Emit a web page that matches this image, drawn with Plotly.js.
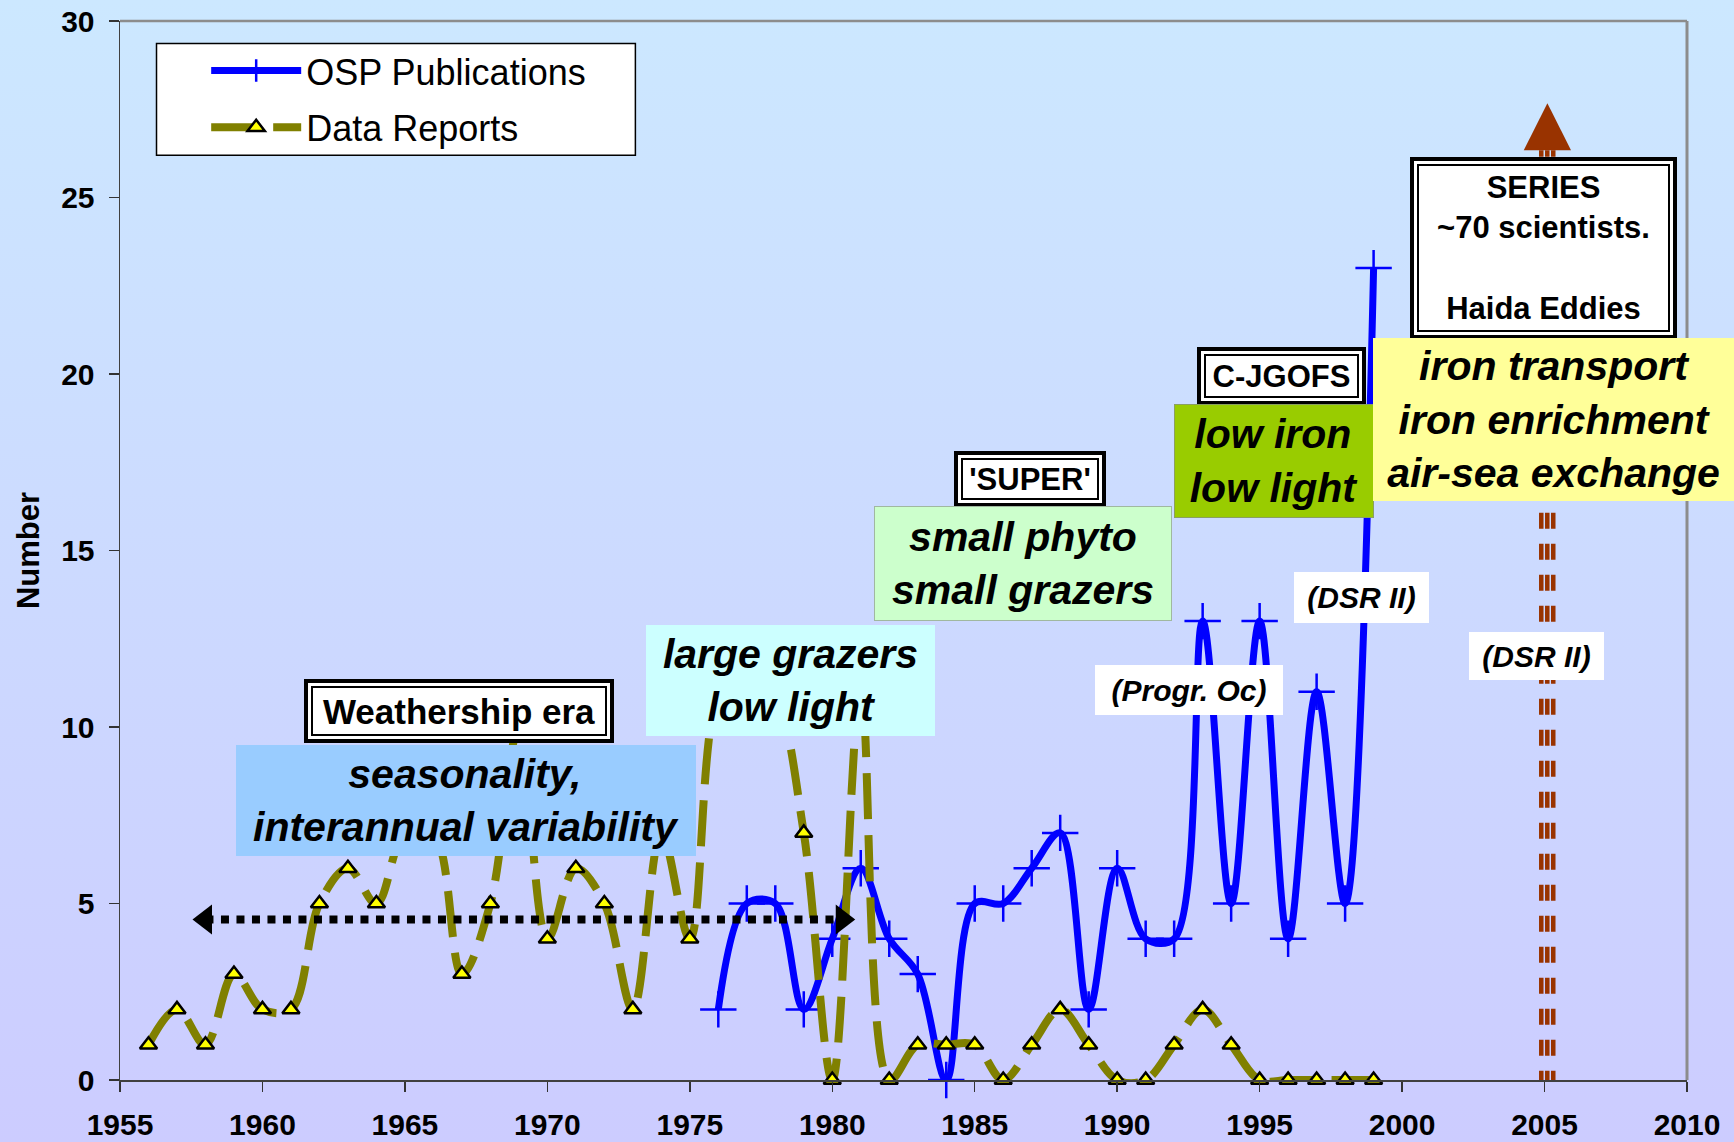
<!DOCTYPE html>
<html>
<head>
<meta charset="utf-8">
<script src="https://cdn.plot.ly/plotly-3.0.1.min.js"></script>
<style>
html,body{margin:0;padding:0;}
#chart{width:1734px;height:1142px;background:linear-gradient(to bottom,#CCE8FF 0%,#CCCCFF 100%);}
</style>
</head>
<body>
<div id="chart"></div>
<script>
// ---- data ----
const ospYears = [1976,1977,1978,1979,1980,1981,1982,1983,1984,1985,1986,1987,1988,1989,1990,1991,1992,1993,1994,1995,1996,1997,1998,1999];
const ospValues = [2,5,5,2,4,6,4,3,0,5,5,6,7,2,6,4,4,13,5,13,4,11,5,23];

const reportYears = [1956,1957,1958,1959,1960,1961,1962,1963,1964,1965,1966,1967,1968,1969,1970,1971,1972,1973,1974,1975,1976,1977,1978,1979,1980,1981,1982,1983,1984,1985,1986,1987,1988,1989,1990,1991,1992,1993,1994,1995,1996,1997,1998,1999];
const reportValues = [1,2,1,3,2,2,5,6,5,7,7,3,5,10,4,6,5,2,7,4,11,12,11,7,0,11,0,1,1,1,0,1,2,1,0,0,1,2,1,0,0,0,0,0];

// weathership-era arrow (start/end year, level)
const eraArrowYears = [1958.0, 1980.35];
const eraArrowLevel = [4.55, 4.55];

// the 2005 marker line
const seriesYear = [2004.885, 2005.096, 2005.306];
const seriesLineTop = 26.34;

const FONT = 'Liberation Sans, Arial, sans-serif';

const traces = [
  {
    x: ospYears, y: ospValues, name: 'OSP Publications', type: 'scatter', mode: 'lines+markers',
    legendgroup: 'a', cliponaxis: false, hoverinfo: 'skip',
    line: {color: '#0000FF', width: 7, shape: 'spline', smoothing: 1},
    marker: {symbol: 'cross-thin', size: 26, color: '#0000FF', line: {color: '#0000FF', width: 2.5}}
  },
  {
    x: reportYears, y: reportValues, name: 'Data Reports', type: 'scatter', mode: 'lines+markers',
    legendgroup: 'b', cliponaxis: false, hoverinfo: 'skip',
    line: {color: '#808000', width: 8, shape: 'spline', smoothing: 1, dash: '46px,16px'},
    marker: {symbol: 'triangle-up', size: 15, color: '#FFFF00', line: {color: '#000', width: 2.5}}
  },
  {
    x: eraArrowYears, y: eraArrowLevel, type: 'scatter', mode: 'lines+markers', showlegend: false,
    cliponaxis: false, hoverinfo: 'skip',
    line: {color: '#000', width: 8, dash: '8px,7.5px'},
    marker: {symbol: ['triangle-left', 'triangle-right'], size: 26, color: '#000'}
  }
];

function plainBox(x, y, text, W, H, size, bg, italic, edge) {
  return {
    x: x, y: y, xref: 'x', yref: 'y', xanchor: 'center', yanchor: 'middle', showarrow: false,
    text: text, width: W, height: H, bgcolor: bg,
    bordercolor: edge || 'rgba(0,0,0,0)', borderwidth: edge ? 1 : 0, borderpad: 0, align: 'center',
    font: {family: FONT, size: size, color: '#000', weight: 'bold', style: italic ? 'italic' : 'normal'}
  };
}
function doubleBox(x, y, text, W, H, size) {
  return [
    {x: x, y: y, xref: 'x', yref: 'y', xanchor: 'center', yanchor: 'middle', showarrow: false,
     text: text, width: W - 8, height: H - 8, bgcolor: '#FFFFFF', bordercolor: '#000', borderwidth: 4, borderpad: 0,
     font: {family: FONT, size: size, color: 'rgba(0,0,0,0)', weight: 'bold'}},
    {x: x, y: y, xref: 'x', yref: 'y', xanchor: 'center', yanchor: 'middle', showarrow: false,
     text: text, width: W - 18, height: H - 18, bgcolor: '#FFFFFF', bordercolor: '#000', borderwidth: 2, borderpad: 0,
     font: {family: FONT, size: size, color: '#000', weight: 'bold'}}
  ];
}

const annotations = [].concat(
  doubleBox(1966.89, 10.44, 'Weathership era', 310, 64, 35),
  [plainBox(1967.13, 7.93, 'seasonality,<br>interannual variability', 460, 111, 41, '#99CCFF', true)],
  [plainBox(1978.545, 11.32, 'large grazers<br>low light', 289, 111, 41, '#CCFFFF', true)],
  doubleBox(1986.94, 17.03, "'SUPER'", 152, 56, 31),
  [plainBox(1986.71, 14.64, 'small phyto<br>small grazers', 296, 113, 41, '#CCFFCC', true, '#A0B8A0')],
  doubleBox(1995.78, 19.93, 'C-JGOFS', 169, 58, 31),
  [plainBox(1995.52, 17.54, 'low iron<br>low light', 198, 112, 41, '#99CC00', true, '#8AA060')],
  doubleBox(2004.97, 23.58, 'SERIES<br>~70 scientists.<br> <br>Haida Eddies', 267, 182, 31),
  [plainBox(2005.32, 18.71, 'iron transport<br>iron enrichment<br>air-sea exchange', 361, 163, 41, '#FFFF99', true)],
  [plainBox(1992.52, 11.05, '(Progr. Oc)', 188, 50, 30, '#FFFFFF', true)],
  [plainBox(1998.57, 13.66, '(DSR II)', 135, 51, 30, '#FFFFFF', true)],
  [plainBox(2004.71, 12.0, '(DSR II)', 135, 48, 30, '#FFFFFF', true)]
);

const shapes = [
  {type: 'rect', xref: 'paper', yref: 'paper', x0: 0.0233, x1: 0.3289, y0: 0.8732, y1: 0.9787,
   fillcolor: '#FFFFFF', line: {color: '#000', width: 1.5}, layer: 'above'},
  {type: 'line', xref: 'paper', yref: 'paper', x0: 0, x1: 1, y0: 1, y1: 1, line: {color: '#8C8C8C', width: 2.5}},
  {type: 'line', xref: 'paper', yref: 'paper', x0: 1, x1: 1, y0: 0, y1: 1, line: {color: '#8C8C8C', width: 3}}
];
seriesYear.forEach(function (sx) {
  shapes.push({type: 'line', xref: 'x', yref: 'y', x0: sx, x1: sx, y0: -0.19, y1: seriesLineTop,
    line: {color: '#993300', width: 4.5, dash: '16px,15px'}});
});
shapes.push({type: 'path', xref: 'x', yref: 'y', path: 'M2004.27,26.34 L2005.10,27.67 L2005.93,26.34 Z',
  fillcolor: '#993300', line: {width: 0}});

const layout = {
  width: 1734, height: 1142,
  margin: {l: 120, r: 47, t: 21, b: 62},
  paper_bgcolor: 'rgba(0,0,0,0)', plot_bgcolor: 'rgba(0,0,0,0)',
  font: {family: FONT, color: '#000'},
  showlegend: true,
  xaxis: {
    range: [1955, 2010], tickmode: 'linear', tick0: 1955, dtick: 5,
    ticks: 'outside', ticklen: 10, tickwidth: 1.5, tickcolor: '#333',
    showline: true, linecolor: '#404040', linewidth: 2, showgrid: false, zeroline: false,
    tickfont: {family: FONT, size: 30, weight: 'bold', color: '#000'}, ticklabelstandoff: 7
  },
  yaxis: {
    range: [0, 30], tickmode: 'linear', tick0: 0, dtick: 5,
    ticks: 'outside', ticklen: 10, tickwidth: 1.5, tickcolor: '#333',
    showline: true, linecolor: '#404040', linewidth: 1.5, showgrid: false, zeroline: false,
    tickfont: {family: FONT, size: 30, weight: 'bold', color: '#000'}, ticklabelstandoff: 8,
    title: {text: 'Number', font: {family: FONT, size: 31, weight: 'bold', color: '#000'}, standoff: 12}
  },
  legend: {
    x: 0.055, y: 0.9815, xanchor: 'left', yanchor: 'top',
    bgcolor: 'rgba(0,0,0,0)', borderwidth: 0,
    font: {family: FONT, size: 36, color: '#000'},
    traceorder: 'grouped', tracegroupgap: 7, itemwidth: 90
  },
  shapes: shapes,
  annotations: annotations
};

Plotly.newPlot('chart', traces, layout, {displayModeBar: false, staticPlot: true});
</script>
</body>
</html>
